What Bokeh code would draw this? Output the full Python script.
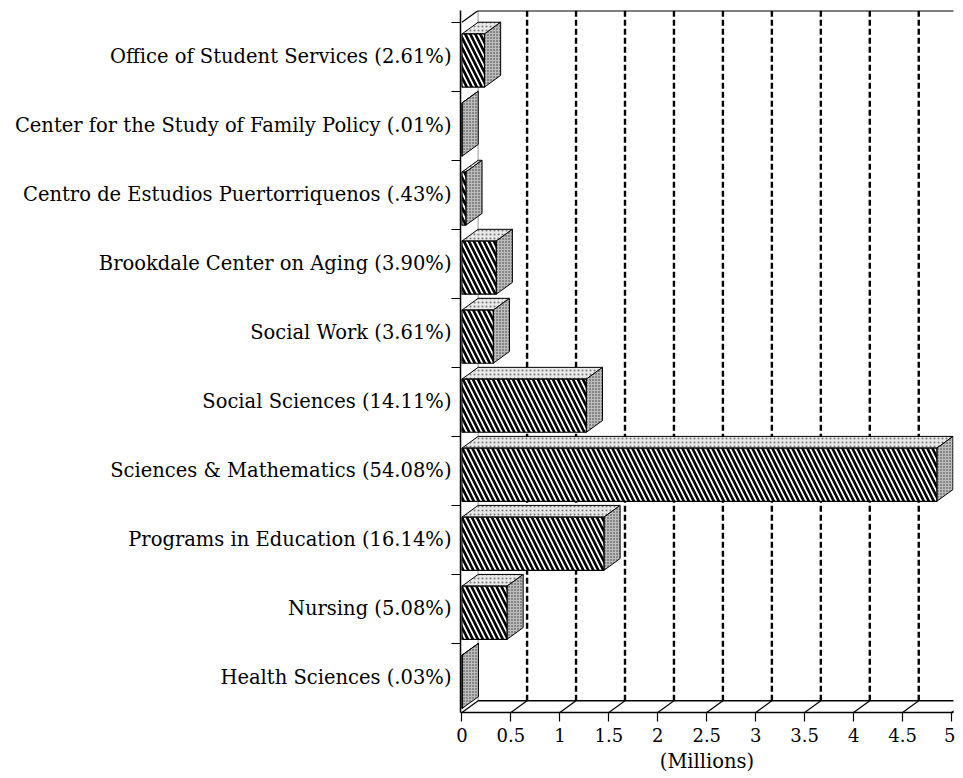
from bokeh.plotting import figure
from bokeh.models import FixedTicker, Range1d
from bokeh.embed import file_html
from bokeh.resources import INLINE

# ---- data (bottom row first) ----
departments = ["Health Sciences", "Nursing", "Programs in Education", "Sciences & Mathematics",
               "Social Sciences", "Social Work", "Brookdale Center on Aging",
               "Centro de Estudios Puertorriquenos", "Center for the Study of Family Policy",
               "Office of Student Services"]
shares = [".03%", "5.08%", "16.14%", "54.08%", "14.11%", "3.61%", "3.90%", ".43%", ".01%", "2.61%"]
funding_millions = [0.003, 0.46, 1.45, 4.85, 1.27, 0.32, 0.35, 0.04, 0.001, 0.23]
x_ticks = [0, 0.5, 1, 1.5, 2, 2.5, 3, 3.5, 4, 4.5, 5]
x_tick_labels = ["0", "0.5", "1", "1.5", "2", "2.5", "3", "3.5", "4", "4.5", "5"]

n = len(departments)
DX = 0.165   # depth offset in x (data units)
DY = 0.17    # depth offset in y (rows)
F0, F1 = 0.06, 0.83   # front face bottom / top within a row

SERIF = "DejaVu Serif"

p = figure(width=955, height=775, output_backend="svg", toolbar_location=None,
           x_range=Range1d(-0.015, 5.02), y_range=Range1d(0, n + DY),
           min_border_left=460, min_border_right=2, min_border_top=10, min_border_bottom=63)
p.outline_line_color = None
p.xgrid.visible = False
p.ygrid.visible = False
p.background_fill_color = "white"

# back wall gridlines (dashed)
gx = [t + DX for t in x_ticks[1:]]
p.segment(x0=gx, y0=[DY] * len(gx), x1=gx, y1=[n + DY] * len(gx),
          line_color="black", line_width=2.4, line_dash="6 3")
# back-left wall edge
p.segment(x0=[DX], y0=[DY], x1=[DX], y1=[n + DY], line_color="#999999", line_width=1)
# top border of wall
p.segment(x0=[DX], y0=[n + DY], x1=[6], y1=[n + DY], line_color="black", line_width=2)
p.segment(x0=[0], y0=[n], x1=[DX], y1=[n + DY], line_color="black", line_width=1.2)

# floor: back line and diagonals
p.segment(x0=[DX], y0=[DY], x1=[6], y1=[DY], line_color="black", line_width=1.5)
p.segment(x0=x_ticks, y0=[0] * len(x_ticks), x1=[t + DX for t in x_ticks],
          y1=[DY] * len(x_ticks), line_color="black", line_width=1.2)

# bars: top face, side face, front face
tops_x, tops_y, side_x, side_y = [], [], [], []
for i, v in enumerate(funding_millions):
    tops_x.append([0, v, v + DX, DX])
    tops_y.append([i + F1, i + F1, i + F1 + DY, i + F1 + DY])
    side_x.append([v, v + DX, v + DX, v])
    side_y.append([i + F0, i + F0 + DY, i + F1 + DY, i + F1])

p.patches(xs=tops_x, ys=tops_y, fill_color="#e8e8e8", line_color="black", line_width=1,
          hatch_pattern=".", hatch_color="#777777", hatch_scale=4, hatch_weight=1)
p.patches(xs=side_x, ys=side_y, fill_color="#bcbcbc", line_color="black", line_width=1,
          hatch_pattern=".", hatch_color="#333333", hatch_scale=3, hatch_weight=1)
p.hbar(y=[i + (F0 + F1) / 2 for i in range(n)], height=F1 - F0, left=0,
       right=funding_millions, fill_color="white", line_color="black", line_width=1.2,
       hatch_pattern="\\", hatch_color="black", hatch_scale=10, hatch_weight=2.7)

# x axis
xa = p.xaxis[0]
xa.ticker = FixedTicker(ticks=x_ticks)
xa.major_label_overrides = {t: l for t, l in zip(x_ticks, x_tick_labels)}
xa.axis_label = "(Millions)"
xa.axis_label_text_font = SERIF
xa.axis_label_text_font_style = "normal"
xa.axis_label_text_font_size = "19.5px"
xa.axis_label_text_color = "black"
xa.axis_label_standoff = 5
xa.major_label_text_font = SERIF
xa.major_label_text_font_size = "18px"
xa.major_label_text_color = "black"
xa.major_label_standoff = 6
xa.major_tick_out = 9
xa.major_tick_in = 0
xa.minor_tick_out = 0
xa.minor_tick_in = 0
xa.axis_line_width = 1.5
xa.major_tick_line_width = 1.2

# y axis
ya = p.yaxis[0]
centers = [i + 0.5 for i in range(n)]
ya.ticker = FixedTicker(ticks=centers, minor_ticks=list(range(1, n + 1)))
ya.major_label_overrides = {c: f"{d} ({s})" for c, d, s in zip(centers, departments, shares)}
ya.major_label_text_font = SERIF
ya.major_label_text_font_size = "19.5px"
ya.major_label_text_color = "black"
ya.major_label_standoff = 0
ya.major_tick_out = 0
ya.major_tick_in = 0
ya.minor_tick_out = 9
ya.minor_tick_in = 0
ya.minor_tick_line_width = 1.2
ya.axis_line_width = 1.5

open("out.html", "w").write(file_html(p, INLINE))
